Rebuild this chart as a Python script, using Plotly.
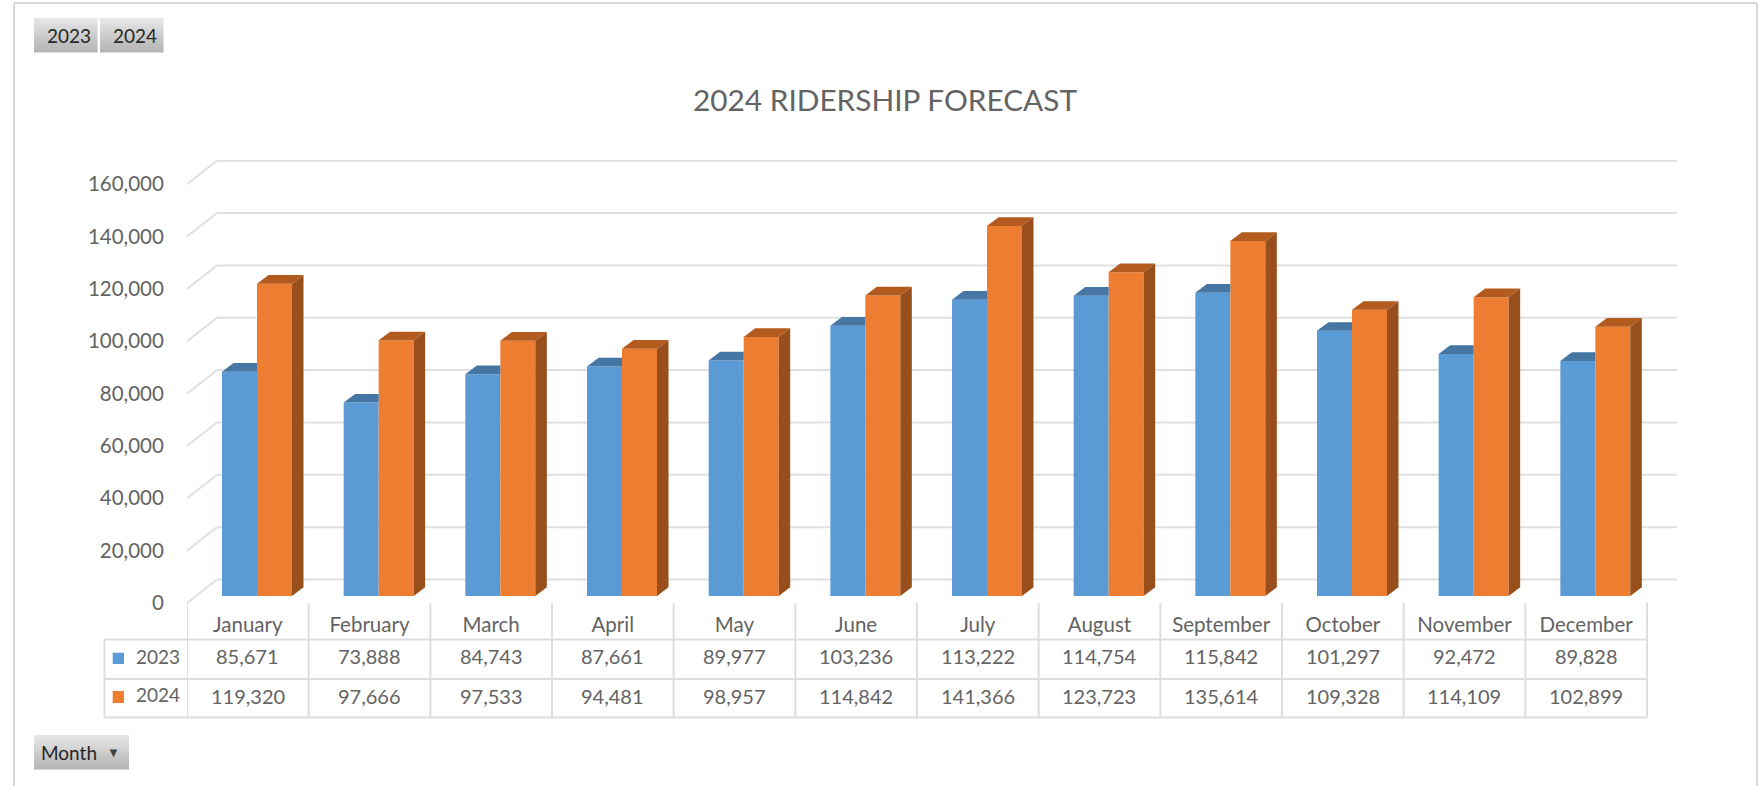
import plotly.graph_objects as go

months = ["January", "February", "March", "April", "May", "June", "July",
          "August", "September", "October", "November", "December"]
series_2023 = [85671, 73888, 84743, 87661, 89977, 103236, 113222, 114754, 115842, 101297, 92472, 89828]
series_2024 = [119320, 97666, 97533, 94481, 98957, 114842, 141366, 123723, 135614, 109328, 114109, 102899]
axis_ticks = [0, 20000, 40000, 60000, 80000, 100000, 120000, 140000, 160000]
slicers = ["2023", "2024"]

W, H = 1762, 786
L, R, T, B = 187, 1677, 160, 603      # plot area in page pixels
CAT_PX = 1460 / 12                     # pixels per category
VAL_PX = 2.6175 / 1000                 # pixels per unit of value
GROUP = 70 / CAT_PX                    # width of a bar pair, in categories
FONT = "Lato"
TEXT = "#636363"
GRID = "#e0e0e0"
TABLE = "#dedede"
BLUE, BLUE_TOP = "#5B9BD5", "#4676A3"
ORANGE, ORANGE_TOP, ORANGE_SIDE = "#ED7D31", "#B35B1E", "#994F1C"

DX = 11.5 / CAT_PX       # bar depth
DY = 8.7 / VAL_PX
FRONT_Y = -7 / VAL_PX    # floor front edge relative to the bars' base
COL_SHIFT = 9.2 / CAT_PX # table columns sit left of the bars
BACK_X = 30 / CAT_PX
BACK_Y = 16.5 / VAL_PX

x_lo = -(257 - L) / CAT_PX
x_hi = (R - 257) / CAT_PX
y_lo = FRONT_Y
y_hi = (596 - T) / VAL_PX


def px(x):
    return (x - L) / (R - L)


def py(y):
    return 1 - (y - T) / (B - T)


xs = list(range(len(months)))
bw = GROUP / 2
fig = go.Figure()
fig.add_bar(x=xs, y=series_2023, name="2023", marker_color=BLUE, marker_line_width=0,
            hovertext=months, showlegend=False)
fig.add_bar(x=xs, y=series_2024, name="2024", marker_color=ORANGE, marker_line_width=0,
            hovertext=months, showlegend=False)

# 3-D faces derived from the values
for i, (a, b) in enumerate(zip(series_2023, series_2024)):
    fig.add_scatter(x=[i - bw, i - bw + DX, i, i, i - bw], y=[a, a + DY, a + DY, a, a],
                    mode="lines", fill="toself", fillcolor=BLUE_TOP, line_width=0,
                    hoverinfo="skip", showlegend=False)
    fig.add_scatter(x=[i, i + DX, i + bw + DX, i + bw, i], y=[b, b + DY, b + DY, b, b],
                    mode="lines", fill="toself", fillcolor=ORANGE_TOP, line_width=0,
                    hoverinfo="skip", showlegend=False)
    fig.add_scatter(x=[i + bw, i + bw + DX, i + bw + DX, i + bw, i + bw], y=[0, DY, b + DY, b, 0],
                    mode="lines", fill="toself", fillcolor=ORANGE_SIDE, line_width=0,
                    hoverinfo="skip", showlegend=False)

shapes = []
annotations = []


def line(x0, y0, x1, y1, color=TABLE, width=2, xref="paper", yref="paper", layer="below"):
    shapes.append(dict(type="line", x0=x0, y0=y0, x1=x1, y1=y1, xref=xref, yref=yref,
                       layer=layer, line=dict(color=color, width=width)))


def rect(x0, y0, x1, y1, color):
    shapes.append(dict(type="rect", x0=px(x0), y0=py(y0), x1=px(x1), y1=py(y1), xref="paper", yref="paper",
                       layer="below", line_width=0, fillcolor=color))


def label(x, y, text, size=20, color=TEXT, xref="paper", xanchor="center"):
    annotations.append(dict(x=x, y=py(y), text=text, xref=xref, yref="paper", showarrow=False,
                            xanchor=xanchor, yanchor="middle",
                            font=dict(family=FONT, size=size, color=color)))


# outer frame
line(px(14), py(3), px(14), py(H), "#d9d9d9")
line(px(14), py(3), px(1757), py(3), "#d9d9d9")
line(px(1757), py(3), px(1757), py(H), "#d9d9d9")

# back wall gridlines and side wall diagonals
for v in axis_ticks:
    yb = v + BACK_Y
    line(x_lo + BACK_X, yb, x_hi, yb, GRID, 2, "x", "y")
    line(x_lo, v + FRONT_Y, x_lo + BACK_X, yb, GRID, 2, "x", "y")

# data table
ROWS = [603, 639.5, 679, 717.5]
for i in range(len(months) + 1):
    cx = i + x_lo
    line(cx, py(ROWS[0]), cx, py(ROWS[3]), TABLE, 2, "x", "paper")
line(px(104.5), py(ROWS[1]), px(104.5), py(ROWS[3]), TABLE)
for r in ROWS[1:]:
    line(px(104.5), py(r), px(L + 12 * CAT_PX), py(r), TABLE)

for i, (a, b) in enumerate(zip(series_2023, series_2024)):
    label(i - COL_SHIFT, 656, f"{a:,}", xref="x")
    label(i - COL_SHIFT, 696, f"{b:,}", xref="x")

# legend keys
rect(112.7, 652.7, 124, 664, BLUE)
rect(112.7, 691, 124, 703, ORANGE)
label(px(134), 656, slicers[0], 19, xanchor="left")
label(px(134), 694.5, slicers[1], 19, xanchor="left")


# grey field buttons
def button(x0, y0, x1, y1):
    n = 12
    for k in range(n):
        c = int(230 - (230 - 181) * k / (n - 1))
        h = (y1 - y0) / n
        rect(x0, y0 + k * h, x1, y0 + (k + 1) * h + 0.5, f"rgb({c},{c},{c})")


button(34, 18, 97.5, 52)
button(100, 18, 163.5, 52)
button(34, 735, 129, 769)
label(px(68.5), 36, slicers[0], 19, "#262626")
label(px(134.5), 36, slicers[1], 19, "#262626")
label(px(38.5), 752, "Month", 19, "#262626", xanchor="left")
label(px(113.5), 752, "▼", 13, "#404040")

fig.update_layout(
    width=W, height=H, autosize=False,
    margin=dict(l=L, r=W - R, t=T, b=H - B, pad=0),
    paper_bgcolor="white", plot_bgcolor="rgba(0,0,0,0)",
    barmode="group", bargap=1 - GROUP, bargroupgap=0,
    showlegend=False,
    title=dict(text="2024 RIDERSHIP FORECAST", x=885 / W, xanchor="center", y=1 - 101 / H, yanchor="middle",
               font=dict(family=FONT, size=29.8, color=TEXT)),
    shapes=shapes, annotations=annotations,
    font=dict(family=FONT, size=20, color=TEXT),
    xaxis=dict(range=[x_lo, x_hi], tickmode="array", tickvals=[i - COL_SHIFT for i in xs], ticktext=months,
               tickfont=dict(size=20.5, family=FONT, color=TEXT),
               showgrid=False, zeroline=False, showline=False,
               ticks="outside", ticklen=3, tickcolor="rgba(0,0,0,0)", fixedrange=True, automargin=False),
    yaxis=dict(range=[y_lo, y_hi], tickmode="array", tickvals=[v + FRONT_Y for v in axis_ticks],
               ticktext=[f"{v:,}" for v in axis_ticks], tickfont=dict(size=20.5, family=FONT, color=TEXT),
               showgrid=False, zeroline=False, showline=False,
               ticks="outside", ticklen=18, tickcolor="rgba(0,0,0,0)", fixedrange=True, automargin=False),
)

fig.write_html("out.html", config={"displayModeBar": False},
               post_script="document.body.style.margin='0';document.documentElement.style.overflow='hidden';")
